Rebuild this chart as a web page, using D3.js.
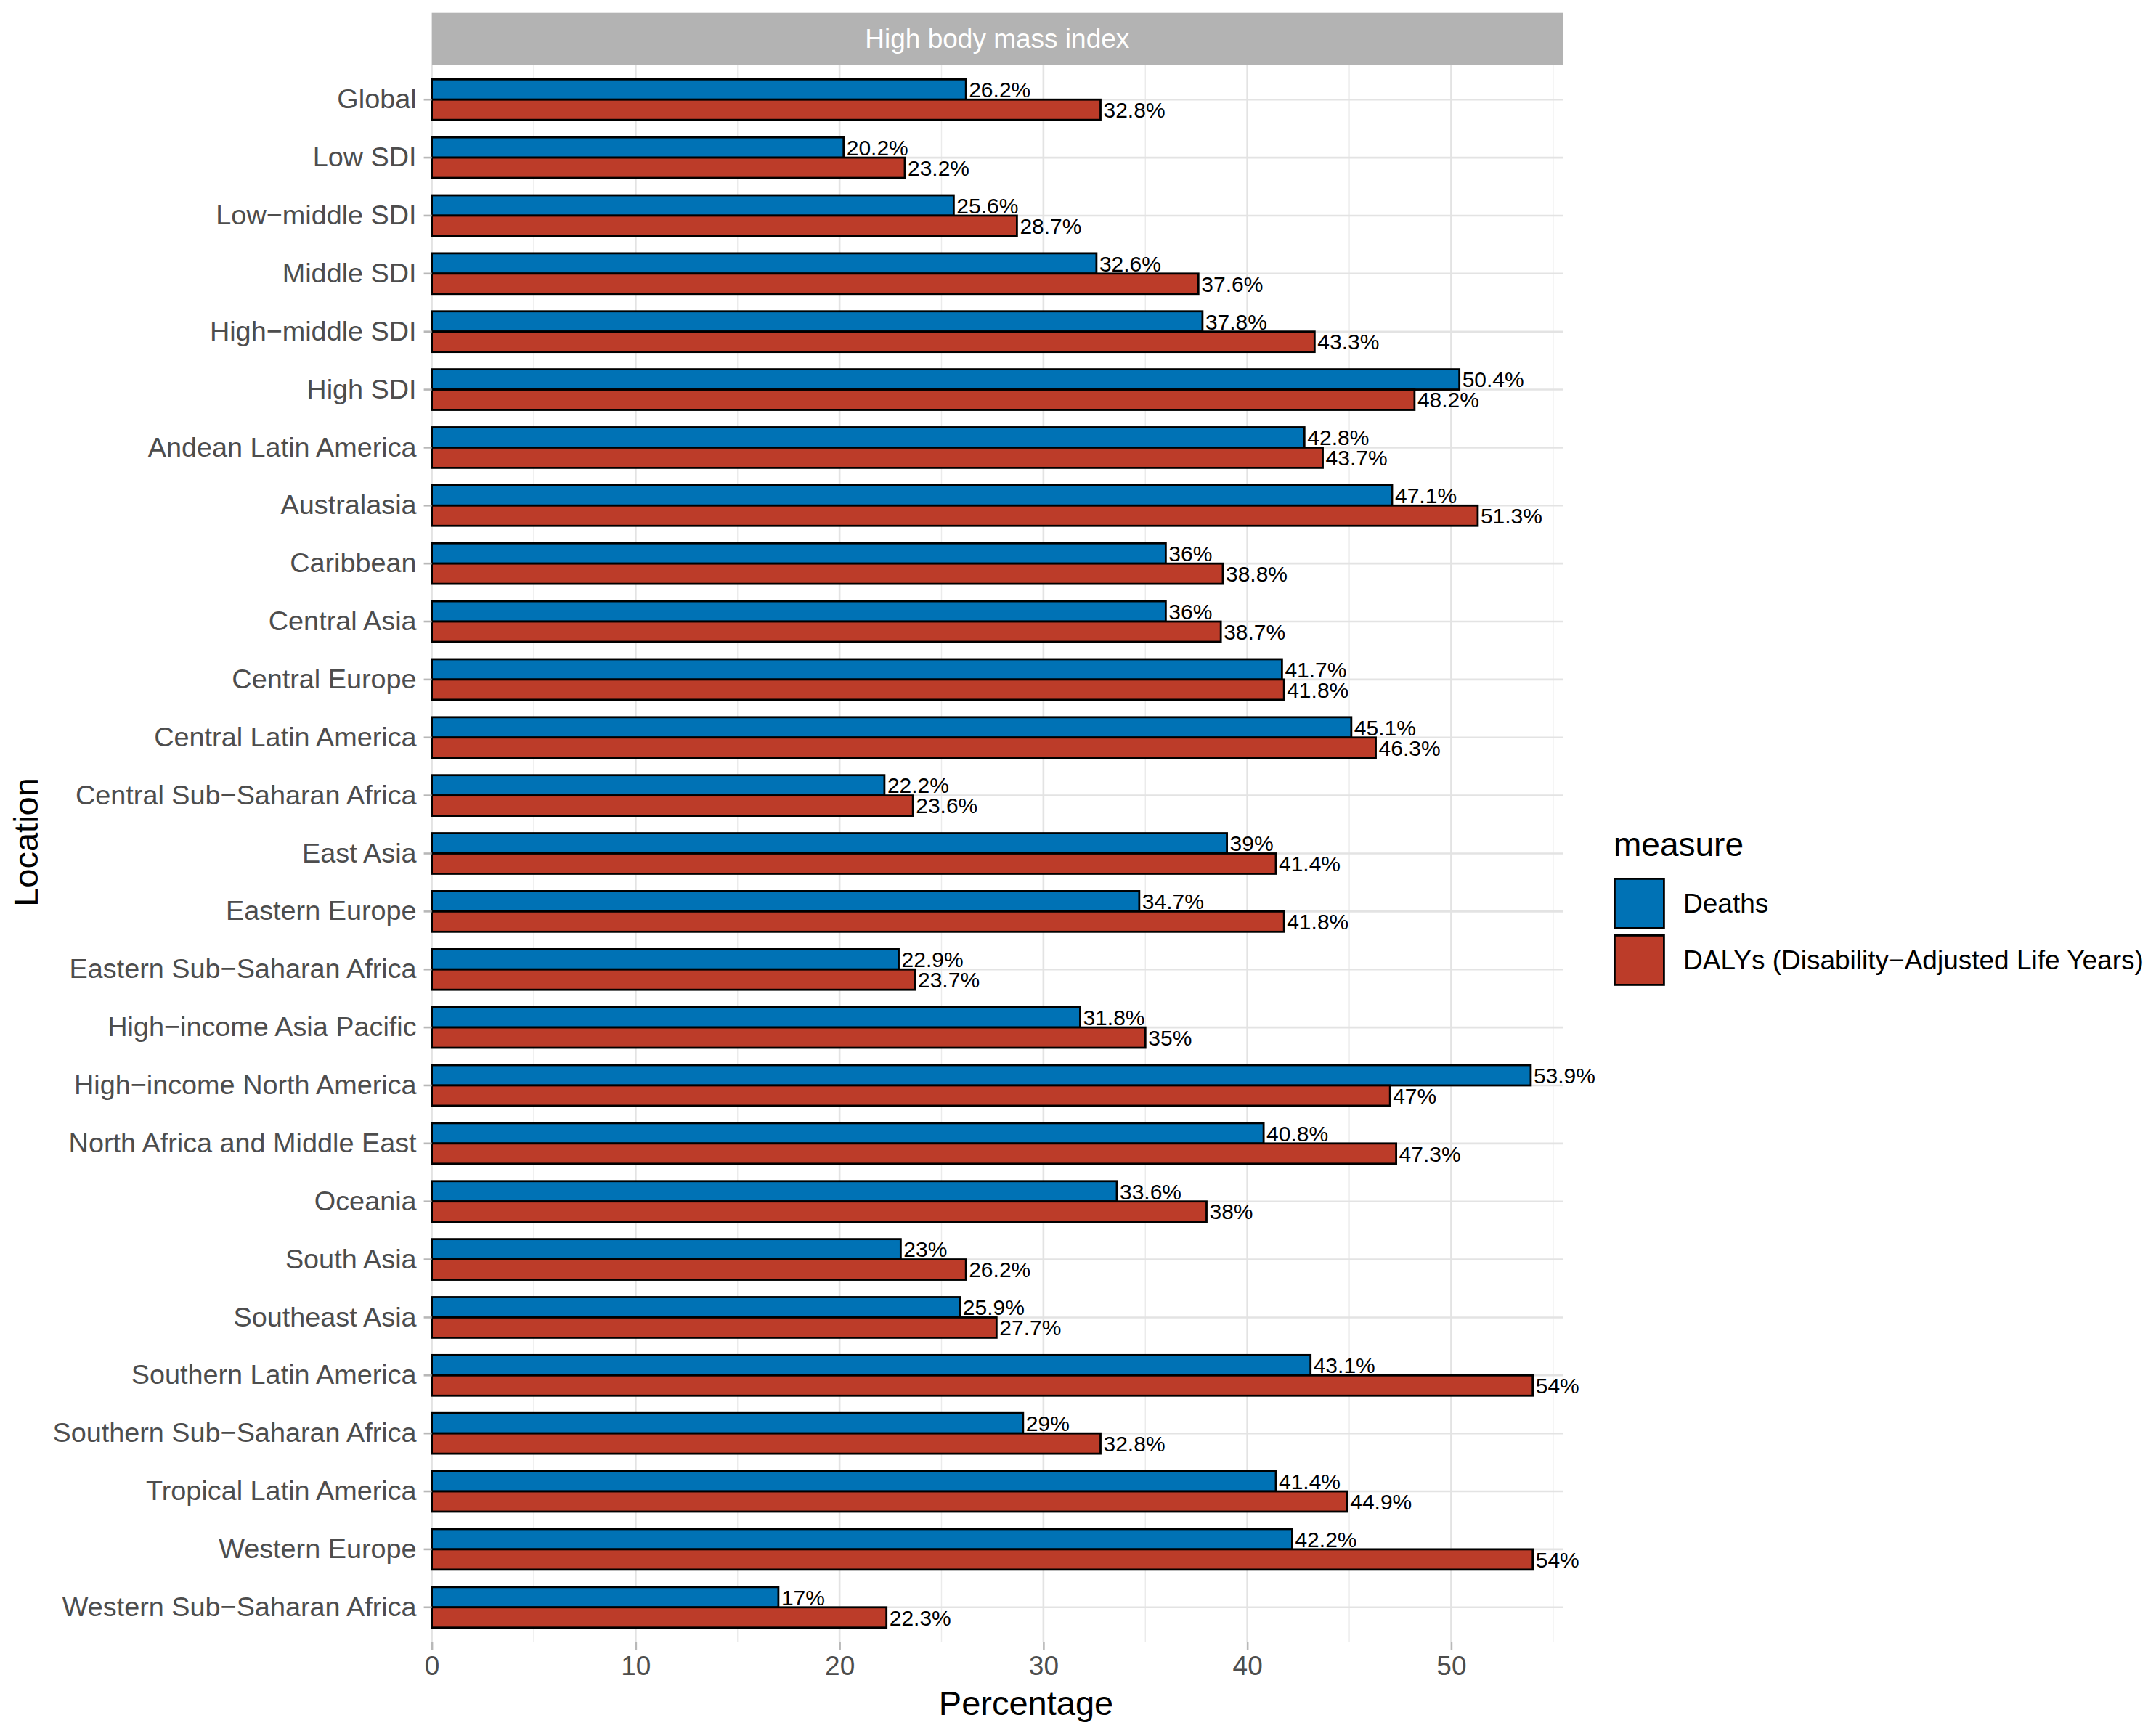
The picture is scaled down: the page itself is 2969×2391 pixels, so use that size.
<!DOCTYPE html>
<meta charset="utf-8">
<style>
body { margin: 0; background: #fff; }
text { font-family: "Liberation Sans", Arial, sans-serif; }
</style>
<svg width="2969" height="2391"></svg>
<script src="https://d3js.org/d3.v7.min.js"></script>
<script>

// categories top to bottom
var locations = ["Global", "Low SDI", "Low\u2212middle SDI", "Middle SDI", "High\u2212middle SDI", "High SDI",
  "Andean Latin America", "Australasia", "Caribbean", "Central Asia", "Central Europe",
  "Central Latin America", "Central Sub\u2212Saharan Africa", "East Asia", "Eastern Europe",
  "Eastern Sub\u2212Saharan Africa", "High\u2212income Asia Pacific", "High\u2212income North America",
  "North Africa and Middle East", "Oceania", "South Asia", "Southeast Asia", "Southern Latin America",
  "Southern Sub\u2212Saharan Africa", "Tropical Latin America", "Western Europe", "Western Sub\u2212Saharan Africa"];

var measures = ["Deaths", "DALYs (Disability\u2212Adjusted Life Years)"];

var deaths = [26.2, 20.2, 25.6, 32.6, 37.8, 50.4, 42.8, 47.1, 36, 36, 41.7, 45.1, 22.2, 39, 34.7,
  22.9, 31.8, 53.9, 40.8, 33.6, 23, 25.9, 43.1, 29, 41.4, 42.2, 17];

var dalys = [32.8, 23.2, 28.7, 37.6, 43.3, 48.2, 43.7, 51.3, 38.8, 38.7, 41.8, 46.3, 23.6, 41.4, 41.8,
  23.7, 35, 47, 47.3, 38, 26.2, 27.7, 54, 32.8, 44.9, 54, 22.3];

var xTicks = [0, 10, 20, 30, 40, 50];
var xMinor = [5, 15, 25, 35, 45, 55];
var colours = ["#0072B5", "#BC3C29"];

var svg = d3.select("svg");

// panel edges (not "top": that name is taken by window.top)
var panelLeft = 594.6, panelRight = 2152, panelTop = 89.3, panelBottom = 2261.7;

var x = d3.scaleLinear().domain([0, 55.47]).range([panelLeft, panelRight]);
var y = d3.scaleBand().domain(locations).range([panelTop, panelBottom]).paddingInner(0).paddingOuter(0.1);
var step = y.step();
var sub = d3.scaleBand().domain(measures).range([0.15 * step, 0.85 * step]);
var fill = d3.scaleOrdinal().domain(measures).range(colours);

// strip
svg.append("rect")
    .attr("x", panelLeft).attr("y", 17.7)
    .attr("width", panelRight - panelLeft).attr("height", panelTop - 17.7)
    .attr("fill", "#B3B3B3");
svg.append("text")
    .attr("x", (panelLeft + panelRight) / 2).attr("y", 53.5)
    .attr("dy", "0.35em")
    .attr("text-anchor", "middle")
    .attr("fill", "#fff")
    .style("font-size", "37px")
    .text("High body mass index");

// grid
var grid = svg.append("g");
grid.selectAll(".minor").data(xMinor).enter().append("line")
    .attr("x1", x).attr("x2", x).attr("y1", panelTop).attr("y2", panelBottom)
    .attr("stroke", "#EBEBEB").attr("stroke-width", 1.4);
grid.selectAll(".majorx").data(xTicks).enter().append("line")
    .attr("x1", x).attr("x2", x).attr("y1", panelTop).attr("y2", panelBottom)
    .attr("stroke", "#E3E3E3").attr("stroke-width", 2.6);
grid.selectAll(".majory").data(locations).enter().append("line")
    .attr("x1", panelLeft).attr("x2", panelRight)
    .attr("y1", function(d) { return y(d) + step / 2; })
    .attr("y2", function(d) { return y(d) + step / 2; })
    .attr("stroke", "#E3E3E3").attr("stroke-width", 2.6);

// bars
var rows = locations.map(function(loc, i) {
  return { loc: loc, vals: [{ m: measures[0], v: deaths[i] }, { m: measures[1], v: dalys[i] }] };
});

var groups = svg.append("g").selectAll("g").data(rows).enter().append("g")
    .attr("transform", function(d) { return "translate(0," + y(d.loc) + ")"; });

groups.selectAll("rect").data(function(d) { return d.vals; }).enter().append("rect")
    .attr("x", x(0))
    .attr("y", function(d) { return sub(d.m); })
    .attr("width", function(d) { return x(d.v) - x(0); })
    .attr("height", sub.bandwidth())
    .attr("fill", function(d) { return fill(d.m); })
    .attr("stroke", "#000").attr("stroke-width", 2.8);

groups.selectAll("text").data(function(d) { return d.vals; }).enter().append("text")
    .attr("x", function(d) { return x(d.v) + 4; })
    .attr("y", function(d) { return sub(d.m) + sub.bandwidth() / 2; })
    .attr("dy", "0.36em")
    .style("font-size", "30px")
    .attr("fill", "#000")
    .text(function(d) { return d.v + "%"; });

// x axis
var xAxis = svg.append("g")
    .attr("transform", "translate(0," + panelBottom + ")")
    .call(d3.axisBottom(x).tickValues(xTicks).tickSize(11).tickPadding(8));
xAxis.select(".domain").remove();
xAxis.selectAll("line").attr("stroke", "#B8B8B8").attr("stroke-width", 2.6);
xAxis.selectAll("text").attr("fill", "#4D4D4D").style("font-size", "37px").attr("font-family", null);

// y axis
var yAxis = svg.append("g")
    .attr("transform", "translate(" + panelLeft + ",0)")
    .call(d3.axisLeft(y).tickSize(11).tickPadding(10));
yAxis.select(".domain").remove();
yAxis.selectAll("line").attr("stroke", "#B8B8B8").attr("stroke-width", 2.6);
yAxis.selectAll("text").attr("fill", "#4D4D4D").style("font-size", "37.8px").attr("font-family", null);

// axis titles
svg.append("text")
    .attr("x", 1413).attr("y", 2362)
    .attr("text-anchor", "middle")
    .style("font-size", "47px")
    .text("Percentage");
svg.append("text")
    .attr("transform", "translate(52,1160) rotate(-90)")
    .attr("text-anchor", "middle")
    .style("font-size", "47px")
    .text("Location");

// legend
var legend = svg.append("g").attr("transform", "translate(2222,1209)");
legend.append("text")
    .attr("x", 0).attr("y", -30)
    .style("font-size", "46px")
    .text("measure");
var items = legend.selectAll(".item").data(measures).enter().append("g")
    .attr("transform", function(d, i) { return "translate(0," + (i * 78) + ")"; });
items.append("rect")
    .attr("x", 1.4).attr("y", 1.4).attr("width", 68).attr("height", 68)
    .attr("fill", function(d) { return fill(d); })
    .attr("stroke", "#000").attr("stroke-width", 2.8);
items.append("text")
    .attr("x", 96).attr("y", 35.5)
    .attr("dy", "0.35em")
    .style("font-size", "37px")
    .text(function(d) { return d; });

</script>
